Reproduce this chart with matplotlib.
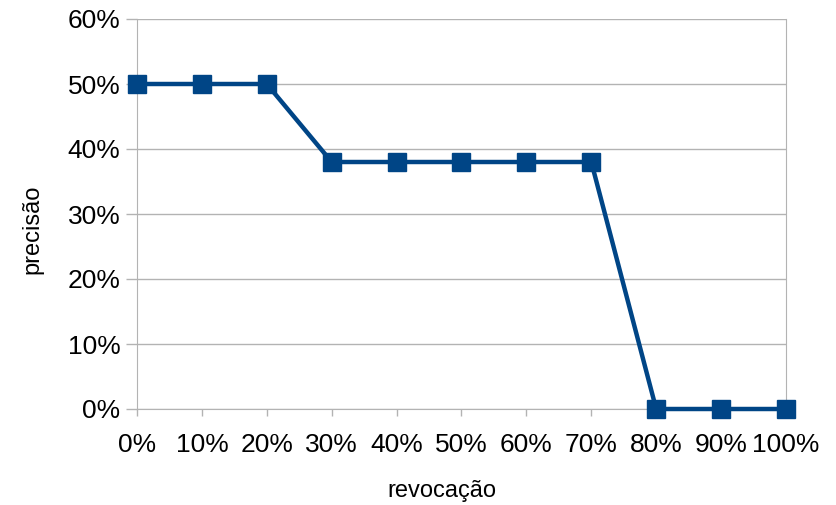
import matplotlib
matplotlib.use("Agg")
import matplotlib.pyplot as plt

plt.rcParams['font.family'] = ['Liberation Sans', 'DejaVu Sans']

# data
revocacao = ['0%', '10%', '20%', '30%', '40%', '50%', '60%', '70%', '80%', '90%', '100%']
precisao = [50, 50, 50, 38, 38, 38, 38, 38, 0, 0, 0]
yticks = [0, 10, 20, 30, 40, 50, 60]

fig = plt.figure(figsize=(8.37, 5.05), dpi=100)
ax = fig.add_axes([137/837, 96/505, 649/837, 390/505])

x = range(len(revocacao))
ax.plot(x, precisao, '-s', color='#004586', lw=3.2, ms=13, zorder=3, clip_on=False)

ax.set_xlim(0, len(revocacao) - 1)
ax.set_ylim(0, 60)
ax.set_xticks(list(x))
ax.set_xticklabels(revocacao)
ax.set_yticks(yticks)
ax.set_yticklabels([f'{v}%' for v in yticks])
ax.yaxis.grid(True, color='#b3b3b3', lw=1)
ax.set_axisbelow(True)

for side in ['left', 'right', 'top', 'bottom']:
    ax.spines[side].set_color('#b3b3b3')
ax.spines['top'].set_visible(False)

ax.tick_params(axis='both', colors='#b3b3b3', labelcolor='black', labelsize=19, width=1)
ax.tick_params(axis='y', length=8, pad=4)
ax.tick_params(axis='x', length=5, pad=12)

ax.set_xlabel('revocação', fontsize=17, labelpad=17)
ax.set_ylabel('precisão', fontsize=17, labelpad=17)
# labels sit a little off-centre in the original
ax.xaxis.label.set_x(0.47)
ax.yaxis.label.set_y(0.46)

fig.savefig('out.png', dpi=100)
